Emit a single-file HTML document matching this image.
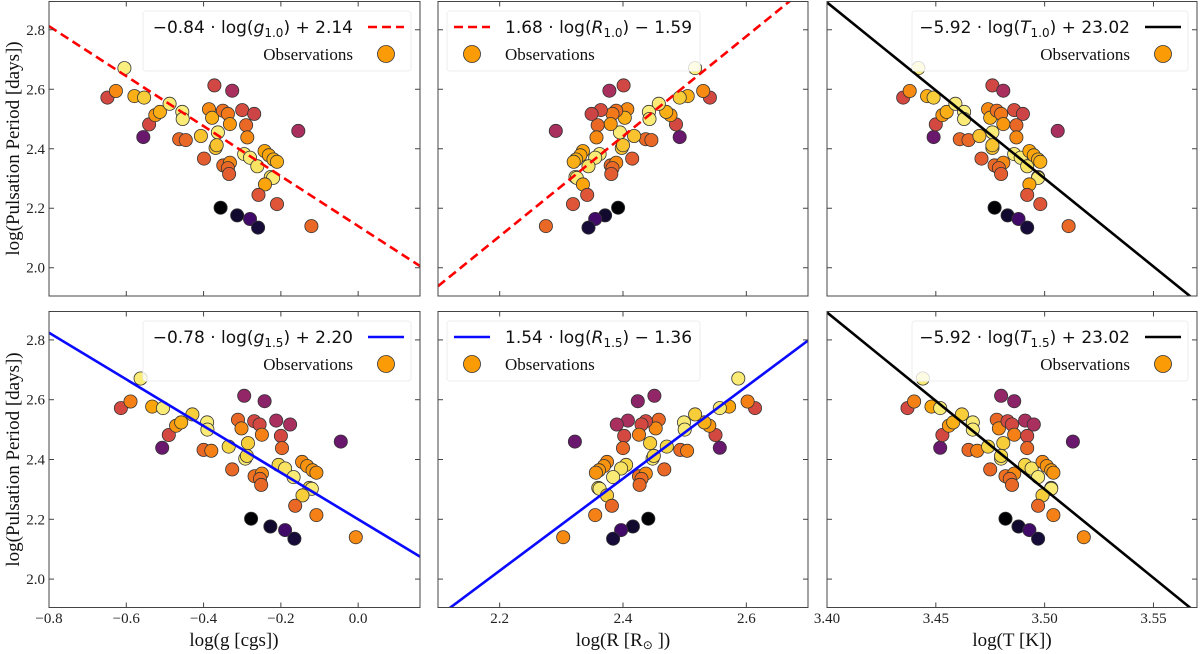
<!DOCTYPE html>
<html><head><meta charset="utf-8">
<style>
html,body{margin:0;padding:0;background:#fff;}
svg{display:block;}
.tick{font-family:"Liberation Serif",serif;font-size:15px;fill:#222;}
.alab{font-family:"Liberation Serif",serif;font-size:19px;fill:#111;}
.leg{font-family:"DejaVu Sans",sans-serif;font-size:17px;fill:#111;}
.obs{font-family:"Liberation Serif",serif;font-size:17px;fill:#111;}
</style></head>
<body>
<svg id="fig" width="1200" height="654" viewBox="0 0 1200 654" xmlns="http://www.w3.org/2000/svg"></svg>
<script>
// shared y values: log(Pulsation Period)
const periodY=[2.572,2.594,2.671,2.577,2.572,2.439,2.482,2.513,2.524,2.551,2.524,2.500,2.432,2.429,2.443,2.367,2.613,2.595,2.533,2.504,2.455,2.403,2.412,2.528,2.517,2.483,2.344,2.353,2.335,2.315,2.530,2.479,2.438,2.517,2.382,2.370,2.341,2.392,2.378,2.364,2.356,2.305,2.302,2.280,2.245,2.214,2.460,2.202,2.176,2.164,2.135,2.140];
const logG10=[-0.649,-0.627,-0.605,-0.579,-0.554,-0.556,-0.541,-0.525,-0.513,-0.488,-0.455,-0.454,-0.463,-0.446,-0.407,-0.399,-0.372,-0.326,-0.386,-0.378,-0.363,-0.369,-0.366,-0.350,-0.337,-0.332,-0.349,-0.332,-0.337,-0.334,-0.300,-0.290,-0.287,-0.269,-0.295,-0.280,-0.261,-0.242,-0.231,-0.219,-0.210,-0.226,-0.220,-0.241,-0.258,-0.210,-0.155,-0.356,-0.313,-0.280,-0.259,-0.121];
const logG15=[-0.614,-0.589,-0.563,-0.533,-0.505,-0.507,-0.490,-0.471,-0.458,-0.429,-0.391,-0.390,-0.400,-0.380,-0.335,-0.326,-0.295,-0.242,-0.311,-0.302,-0.285,-0.292,-0.288,-0.269,-0.255,-0.249,-0.268,-0.249,-0.254,-0.251,-0.212,-0.200,-0.197,-0.176,-0.206,-0.189,-0.167,-0.145,-0.132,-0.118,-0.108,-0.126,-0.120,-0.144,-0.163,-0.108,-0.045,-0.277,-0.227,-0.189,-0.165,-0.006];
const logR10=[2.541,2.530,2.517,2.505,2.492,2.492,2.486,2.477,2.470,2.458,2.442,2.443,2.437,2.446,2.418,2.415,2.401,2.378,2.407,2.403,2.395,2.398,2.400,2.389,2.383,2.380,2.380,2.389,2.383,2.381,2.364,2.359,2.357,2.349,2.362,2.355,2.344,2.335,2.331,2.324,2.320,2.323,2.325,2.335,2.342,2.319,2.291,2.392,2.371,2.355,2.344,2.275];
const logR15=[2.614,2.602,2.587,2.572,2.557,2.557,2.550,2.540,2.532,2.517,2.499,2.500,2.493,2.504,2.471,2.467,2.451,2.424,2.458,2.453,2.444,2.448,2.450,2.437,2.430,2.426,2.426,2.437,2.430,2.427,2.408,2.402,2.400,2.390,2.405,2.397,2.384,2.374,2.369,2.361,2.356,2.360,2.362,2.374,2.382,2.355,2.322,2.441,2.416,2.397,2.384,2.303];
const logT10=[3.435,3.438,3.442,3.446,3.449,3.449,3.450,3.453,3.455,3.459,3.463,3.463,3.461,3.465,3.470,3.471,3.476,3.481,3.474,3.475,3.476,3.476,3.476,3.478,3.480,3.481,3.477,3.481,3.479,3.480,3.486,3.487,3.487,3.490,3.486,3.489,3.492,3.493,3.495,3.497,3.498,3.497,3.497,3.493,3.492,3.498,3.506,3.477,3.483,3.488,3.492,3.511];
const logT15=[3.437,3.440,3.444,3.448,3.452,3.452,3.453,3.456,3.458,3.462,3.467,3.467,3.465,3.469,3.474,3.475,3.480,3.486,3.478,3.479,3.481,3.480,3.480,3.483,3.485,3.486,3.482,3.486,3.484,3.485,3.491,3.492,3.492,3.495,3.491,3.494,3.497,3.499,3.501,3.503,3.504,3.503,3.503,3.499,3.497,3.504,3.513,3.482,3.488,3.493,3.497,3.518];
// colour values (0..1 on inferno) per row
const colorTop=[0.57,0.74,0.96,0.82,0.88,0.3,0.57,0.77,0.82,0.95,0.96,0.95,0.66,0.66,0.86,0.63,0.56,0.45,0.74,0.82,0.95,0.86,0.86,0.68,0.7,0.77,0.66,0.74,0.66,0.63,0.58,0.66,0.74,0.55,0.95,0.95,0.93,0.8,0.8,0.82,0.82,0.93,0.95,0.8,0.61,0.61,0.45,0,0.08,0.2,0.1,0.66];
const colorBot=[0.57,0.72,0.95,0.8,0.95,0.3,0.57,0.77,0.82,0.88,0.95,0.95,0.66,0.72,0.9,0.66,0.4,0.38,0.66,0.74,0.88,0.95,0.9,0.57,0.57,0.72,0.68,0.74,0.67,0.66,0.45,0.57,0.66,0.45,0.9,0.93,0.95,0.74,0.76,0.77,0.76,0.9,0.95,0.88,0.66,0.72,0.3,0,0.08,0.2,0.1,0.74];
// fits: [slope, intercept]
const fitG10=[-0.84,2.14], fitG15=[-0.78,2.20], fitR10=[1.68,-1.59], fitR15=[1.54,-1.36], fitT10=[-5.92,23.02], fitT15=[-5.92,23.02];
const yTicks=[2.0,2.2,2.4,2.6,2.8];
const gTicks=[-0.8,-0.6,-0.4,-0.2,0.0], rTicks=[2.2,2.4,2.6], tTicks=[3.40,3.45,3.50,3.55];

const NS="http://www.w3.org/2000/svg";
const svg=document.getElementById('fig');
function mk(tag,attrs,parent){const e=document.createElementNS(NS,tag);for(const k in attrs)e.setAttribute(k,attrs[k]);(parent||svg).appendChild(e);return e;}
const stops=[[0,0,0,4],[0.1,22,11,57],[0.2,66,10,104],[0.3,106,23,110],[0.4,147,38,103],[0.5,188,55,84],[0.6,221,81,58],[0.7,243,120,25],[0.8,252,165,10],[0.9,246,215,70],[1,252,255,164]];
function inferno(v){for(let i=1;i<stops.length;i++){if(v<=stops[i][0]){const a=stops[i-1],b=stops[i],t=(v-a[0])/(b[0]-a[0]);return `rgb(${Math.round(a[1]+t*(b[1]-a[1]))},${Math.round(a[2]+t*(b[2]-a[2]))},${Math.round(a[3]+t*(b[3]-a[3]))})`;}}return 'rgb(252,255,164)';}

const cols=[{x0:49,x1:420,min:-0.8,max:0.16,ticks:gTicks,fmt:v=>(v<0?'\u2212':'')+Math.abs(v).toFixed(1),lab:'log(g [cgs])',name:'logg'},
{x0:438,x1:808,min:2.1,max:2.7,ticks:rTicks,fmt:v=>v.toFixed(1),lab:'',name:'logr'},
{x0:827,x1:1197,min:3.40,max:3.57,ticks:tTicks,fmt:v=>v.toFixed(2),lab:'log(T [K])',name:'logt'}];
const rows=[{y0:1.5,y1:296},{y0:311.5,y1:607.5}];
const ymin=1.905,ymax=2.895;
const panels=[
 [0,0,logG10,colorTop,fitG10,'red','dash','\u22120.84 \u00b7 log(','g','1.0',') + 2.14','right'],
 [0,1,logR10,colorTop,fitR10,'red','dash','1.68 \u00b7 log(','R','1.0',') \u2212 1.59','left'],
 [0,2,logT10,colorTop,fitT10,'black','solid','\u22125.92 \u00b7 log(','T','1.0',') + 23.02','right'],
 [1,0,logG15,colorBot,fitG15,'#0a0aff','solid','\u22120.78 \u00b7 log(','g','1.5',') + 2.20','right'],
 [1,1,logR15,colorBot,fitR15,'#0a0aff','solid','1.54 \u00b7 log(','R','1.5',') \u2212 1.36','left'],
 [1,2,logT15,colorBot,fitT15,'black','solid','\u22125.92 \u00b7 log(','T','1.5',') + 23.02','right']];

panels.forEach((p,pi)=>{
 const [ri,ci,xs,cs,fit,lc,ls,t1,tv,tsub,t2,side]=p;
 const C=cols[ci],R=rows[ri];
 const sx=v=>C.x0+(v-C.min)/(C.max-C.min)*(C.x1-C.x0);
 const sy=v=>R.y1-(v-ymin)/(ymax-ymin)*(R.y1-R.y0);
 const g=mk('g',{});
 
 
 const cid='clip'+pi;
 const cp=mk('clipPath',{id:cid},g);mk('rect',{x:C.x0,y:R.y0,width:C.x1-C.x0,height:R.y1-R.y0},cp);
 // points
 const pg=mk('g',{'clip-path':`url(#${cid})`},g);
 xs.forEach((xv,i)=>{
  const c=mk('circle',{cx:sx(xv).toFixed(1),cy:sy(periodY[i]).toFixed(1),r:6.6,fill:inferno(cs[i]),stroke:'#333',"stroke-width":0.8},pg);
  
  
 });
 // fit line
 const ln=mk('line',{x1:sx(C.min),y1:sy(fit[0]*C.min+fit[1]),x2:sx(C.max),y2:sy(fit[0]*C.max+fit[1]),stroke:lc,'stroke-width':2.6,'clip-path':`url(#${cid})`},g);
 if(ls==='dash')ln.setAttribute('stroke-dasharray','9 5');
 
 
 // frame
 const fr=mk('rect',{x:C.x0,y:R.y0,width:C.x1-C.x0,height:R.y1-R.y0,fill:'none',stroke:'#444','stroke-width':1},g);
 
 
 // ticks
 yTicks.forEach(t=>{const y=sy(t);
  mk('line',{x1:C.x0,y1:y,x2:C.x0+5,y2:y,stroke:'#444'},g);
  mk('line',{x1:C.x1,y1:y,x2:C.x1-5,y2:y,stroke:'#444'},g);
  if(ci===0){const tx=mk('text',{x:C.x0-4,y:y+5,'text-anchor':'end',class:'tick'},g);tx.textContent=t.toFixed(1);
   
   }
 });
 C.ticks.forEach(t=>{const x=sx(t);
  mk('line',{x1:x,y1:R.y1,x2:x,y2:R.y1-5,stroke:'#444'},g);
  mk('line',{x1:x,y1:R.y0,x2:x,y2:R.y0+5,stroke:'#444'},g);
  if(ri===1){const tx=mk('text',{x:x,y:623,'text-anchor':'middle',class:'tick'},g);tx.textContent=C.fmt(t);
   
   }
 });
 // legend
 const lg=mk('g',{},g);
 
 
 const ly=R.y0+9.5;
 const bx= side==='right'? C.x1-9 : C.x0+9;
 const bw= ci===2?276:(ci===0?268:253);
 mk('rect',{x: side==='right'? bx-bw : bx, y:ly, width:bw, height:60, rx:3, fill:'#fff','fill-opacity':0.8, stroke:'#eee'},lg);
 let txX,txA,hx;
 if(side==='right'){hx=bx-25;txX=bx-58;txA='end';}else{hx=bx+25;txX=bx+58;txA='start';}
 const hl=mk('line',{x1:hx-18,y1:ly+16,x2:hx+18,y2:ly+16,stroke:lc,'stroke-width':2.6},lg);
 if(ls==='dash')hl.setAttribute('stroke-dasharray','9 5');
 
 
 const lt=mk('text',{x:txX,y:ly+22,'text-anchor':txA,class:'leg'},lg);
 
 
 const a=mk('tspan',{},lt);a.textContent=t1;
 const b=mk('tspan',{'font-style':'italic'},lt);b.textContent=tv;
 const c=mk('tspan',{'font-size':'12px',dy:4},lt);c.textContent=tsub;
 const d=mk('tspan',{dy:-4},lt);d.textContent=t2;
 const mc=mk('circle',{cx:hx,cy:ly+43,r:8.5,fill:'rgb(251,155,6)',stroke:'#333','stroke-width':0.8},lg);
 
 
 const ot=mk('text',{x:txX,y:ly+49,'text-anchor':txA,class:'obs'},lg);ot.textContent='Observations';
 
 
});
// axis labels
[[148.5],[459.5]].forEach((v,i)=>{
 const t=mk('text',{x:0,y:0,transform:`translate(19,${v[0]}) rotate(-90)`,'text-anchor':'middle',class:'alab'});
 t.textContent='log(Pulsation Period [days])';
 
 
});
const xl1=mk('text',{x:234,y:646,'text-anchor':'middle',class:'alab'});xl1.textContent='log(g [cgs])';


const xl2=mk('text',{x:623,y:646,'text-anchor':'middle',class:'alab'});


const s1=mk('tspan',{},xl2);s1.textContent='log(R [R';
const s2=mk('tspan',{'font-size':'12px',dy:3},xl2);s2.textContent='\u2299';
const s3=mk('tspan',{dy:-3},xl2);s3.textContent=' ])';
const xl3=mk('text',{x:1012,y:646,'text-anchor':'middle',class:'alab'});xl3.textContent='log(T [K])';


</script>
</body></html>
